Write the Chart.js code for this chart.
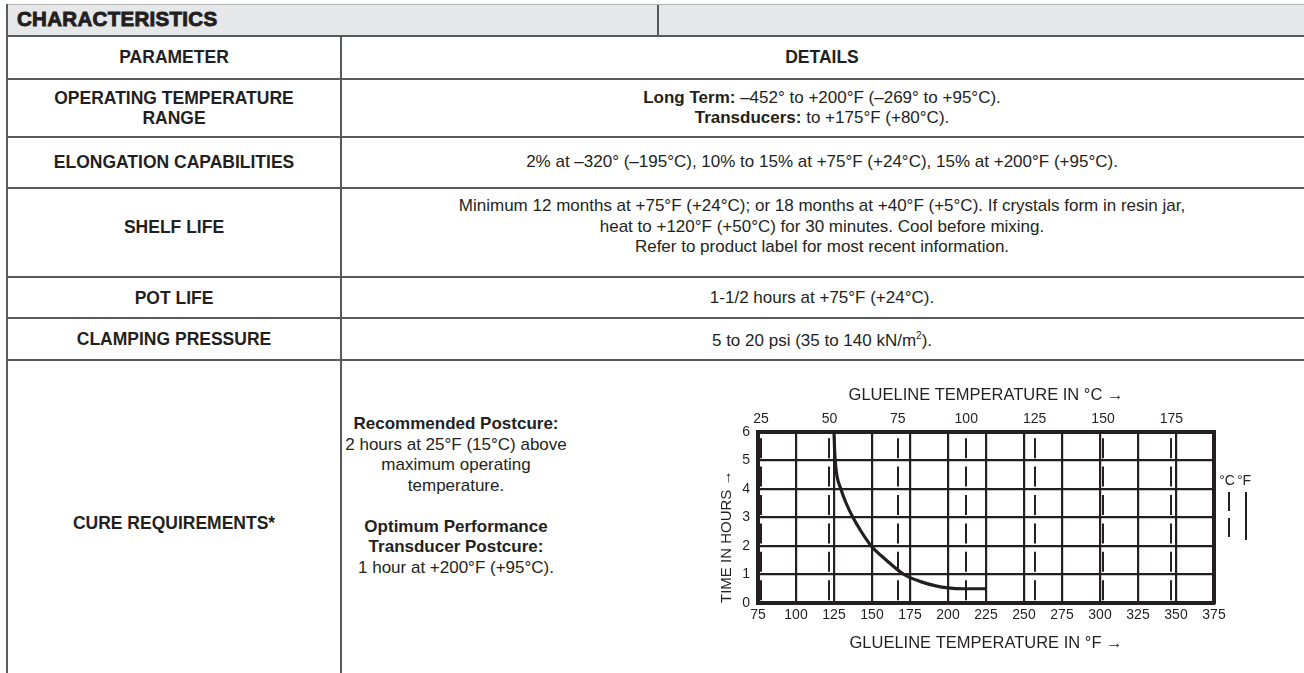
<!DOCTYPE html>
<html><head><meta charset="utf-8">
<script src="https://cdn.jsdelivr.net/npm/chart.js@4.4.1/dist/chart.umd.min.js"></script>
<style>
html,body{margin:0;padding:0;background:#fff;width:1304px;height:673px;overflow:hidden;font-family:"Liberation Sans",Arial,sans-serif;color:#231f20;}
#wrap{position:relative;width:1304px;height:673px;}
#hdr{position:absolute;left:7px;top:4px;width:1297px;height:31px;background:#e6e7e8;border-top:1px solid #b0b2b4;}
.hl{position:absolute;left:7px;width:1297px;height:2px;background:#58595b;}
.vl{position:absolute;width:2px;background:#58595b;}
.t{position:absolute;text-align:center;font-size:17px;line-height:20.5px;white-space:nowrap;transform:translate(-50%,-50%);}
.b{font-weight:bold;font-size:17.5px;}
#title{position:absolute;left:17px;top:6px;font-size:20.5px;font-weight:bold;letter-spacing:0.3px;-webkit-text-stroke:0.9px #231f20;line-height:26px;}
#cbox{position:absolute;left:700px;top:370px;width:604px;height:303px;}
</style></head>
<body><div id="wrap">
<div id="hdr"></div>
<div id="title">CHARACTERISTICS</div>
<div class="vl" style="left:657px;top:5px;height:31px;"></div>
<div class="hl" style="top:35px"></div>
<div class="hl" style="top:78px"></div>
<div class="hl" style="top:136px"></div>
<div class="hl" style="top:187px"></div>
<div class="hl" style="top:276px"></div>
<div class="hl" style="top:317px"></div>
<div class="hl" style="top:359px"></div>
<div class="vl" style="left:6px;top:4px;height:669px;"></div>
<div class="vl" style="left:340px;top:36px;height:637px;"></div>

<div class="t b" style="left:174px;top:57px">PARAMETER</div>
<div class="t b" style="left:822px;top:57px">DETAILS</div>

<div class="t b" style="left:174px;top:107.5px">OPERATING TEMPERATURE<br>RANGE</div>
<div class="t" style="left:822px;top:107.5px"><b>Long Term:</b> –452° to +200°F (–269° to +95°C).<br><b>Transducers:</b> to +175°F (+80°C).</div>

<div class="t b" style="left:174px;top:162px">ELONGATION CAPABILITIES</div>
<div class="t" style="left:822px;top:162px">2% at –320° (–195°C), 10% to 15% at +75°F (+24°C), 15% at +200°F (+95°C).</div>

<div class="t b" style="left:174px;top:227px">SHELF LIFE</div>
<div class="t" style="left:822px;top:227px">Minimum 12 months at +75°F (+24°C); or 18 months at +40°F (+5°C). If crystals form in resin jar,<br>heat to +120°F (+50°C) for 30 minutes. Cool before mixing.<br>Refer to product label for most recent information.</div>

<div class="t b" style="left:174px;top:298px">POT LIFE</div>
<div class="t" style="left:822px;top:298px">1-1/2 hours at +75°F (+24°C).</div>

<div class="t b" style="left:174px;top:339px">CLAMPING PRESSURE</div>
<div class="t" style="left:822px;top:339px">5 to 20 psi (35 to 140 kN/m<sup style="font-size:10px">2</sup>).</div>

<div class="t b" style="left:174px;top:523px">CURE REQUIREMENTS*</div>
<div class="t" style="left:456px;top:496px"><b>Recommended Postcure:</b><br>2 hours at 25°F (15°C) above<br>maximum operating<br>temperature.<br><br><b>Optimum Performance<br>Transducer Postcure:</b><br>1 hour at +200°F (+95°C).</div>

<div id="cbox"><canvas id="c" width="604" height="303"></canvas></div>
</div>
<script>
const fahrenheitTicks = [75, 100, 125, 150, 175, 200, 225, 250, 275, 300, 325, 350, 375];
const celsiusTicks = [25, 50, 75, 100, 125, 150, 175];
const hourTicks = [0, 1, 2, 3, 4, 5, 6];
const curveTempF = [125, 125.3, 125.8, 126.8, 129.5, 133, 137.5, 143, 149.5, 159.5, 171, 182, 192, 200, 210, 225];
const curveHours = [6, 5.5, 5, 4.5, 4, 3.5, 3, 2.5, 2, 1.5, 1, 0.75, 0.6, 0.53, 0.5, 0.5];
const legendLabels = ['°C', '°F'];

const INK = '#231f20';
const FONT = '"Liberation Sans", Arial, sans-serif';
const fToC = f => (f - 32) * 5 / 9;
const fixTicks = vals => scale => { scale.ticks = vals.map(v => ({value: v})); };

const legendPlugin = {
  id: 'unitLegend',
  afterDraw(chart) {
    const ctx = chart.ctx;
    ctx.save();
    ctx.fillStyle = INK; ctx.strokeStyle = INK;
    ctx.font = '14px ' + FONT;
    ctx.textAlign = 'center'; ctx.textBaseline = 'middle';
    ctx.fillText(legendLabels[0], 527, 111);
    ctx.fillText(legendLabels[1], 544, 111);
    ctx.lineWidth = 2;
    ctx.setLineDash([19, 7]);
    ctx.beginPath(); ctx.moveTo(529, 122); ctx.lineTo(529, 170); ctx.stroke();
    ctx.setLineDash([]);
    ctx.beginPath(); ctx.moveTo(546, 122); ctx.lineTo(546, 170); ctx.stroke();
    ctx.restore();
  }
};

new Chart(document.getElementById('c'), {
  type: 'line',
  data: {
    datasets: [{
      data: curveTempF.map((x, i) => ({x, y: curveHours[i]})),
      borderColor: INK, borderWidth: 3.2, pointRadius: 0,
      cubicInterpolationMode: 'monotone', fill: false, xAxisID: 'x', yAxisID: 'y'
    }]
  },
  options: {
    responsive: false, animation: false, devicePixelRatio: 1,
    layout: {padding: {left: 0, right: 90, top: 0, bottom: 0}},
    plugins: {legend: {display: false}, tooltip: {enabled: false}},
    scales: {
      x: {
        type: 'linear', position: 'bottom', min: 75, max: 375,
        afterBuildTicks: fixTicks(fahrenheitTicks),
        afterFit: s => { s.height = 70; },
        grid: {color: INK, lineWidth: 2.2, drawTicks: false},
        border: {display: true, color: INK, width: 4},
        ticks: {color: INK, padding: 4, maxRotation: 0, autoSkip: false, font: {family: FONT, size: 14}},
        title: {display: true, text: 'GLUELINE TEMPERATURE IN °F →', color: INK, padding: {top: 0, bottom: 20}, font: {family: FONT, size: 16.5}}
      },
      x2: {
        type: 'linear', position: 'top', min: fToC(75), max: fToC(375),
        afterBuildTicks: fixTicks(celsiusTicks),
        afterFit: s => { s.height = 62; },
        grid: {color: INK, lineWidth: 2, drawTicks: false},
        border: {display: true, color: INK, width: 4, dash: [20, 8.4], dashOffset: 24.2},
        ticks: {color: INK, padding: 4, maxRotation: 0, autoSkip: false, font: {family: FONT, size: 14}},
        title: {display: true, text: 'GLUELINE TEMPERATURE IN °C →', color: INK, padding: {top: 16, bottom: 0}, font: {family: FONT, size: 16.5}}
      },
      y: {
        type: 'linear', position: 'left', min: 0, max: 6,
        afterBuildTicks: fixTicks(hourTicks),
        afterFit: s => { s.width = 58; },
        grid: {color: INK, lineWidth: 2.2, drawTicks: false},
        border: {display: true, color: INK, width: 4},
        ticks: {color: INK, padding: 8, font: {family: FONT, size: 14}},
        title: {display: true, text: 'TIME IN HOURS →', align: 'start', color: INK, padding: {top: 18, bottom: 0}, font: {family: FONT, size: 15}}
      },
      y2: {
        type: 'linear', position: 'right', min: 0, max: 6, display: true,
        afterFit: s => { s.width = 0; },
        grid: {display: false, drawTicks: false},
        border: {display: true, color: INK, width: 4},
        ticks: {display: false}
      }
    }
  },
  plugins: [legendPlugin]
});
</script>
</body></html>
